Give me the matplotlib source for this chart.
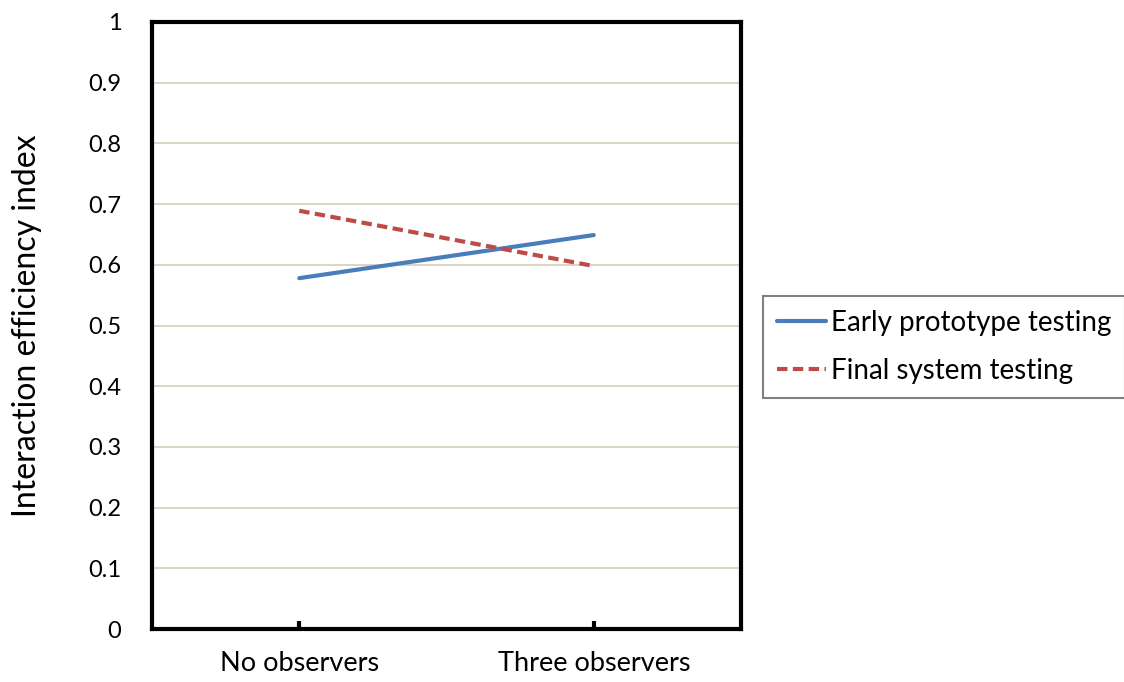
import matplotlib
matplotlib.use("Agg")
import matplotlib.pyplot as plt

categories = ["No observers", "Three observers"]
series_names = ["Early prototype testing", "Final system testing"]
early = [0.578, 0.649]
final = [0.689, 0.598]
yticks = [0, 0.1, 0.2, 0.3, 0.4, 0.5, 0.6, 0.7, 0.8, 0.9, 1]
ytick_labels = ["0", "0.1", "0.2", "0.3", "0.4", "0.5", "0.6", "0.7", "0.8", "0.9", "1"]

plt.rcParams['font.family'] = ['Lato', 'DejaVu Sans']

fig = plt.figure(figsize=(11.24, 6.82), dpi=100)
ax = fig.add_axes([152/1124, 1-629/682, 589/1124, 607/682])

x = list(range(len(categories)))
l1, = ax.plot(x, early, color="#4a7ebb", lw=3, solid_capstyle="round", zorder=3)
l2, = ax.plot(x, final, color="#be4b48", lw=3, ls=(0, (2.5, 1.3)), zorder=3)

ax.set_xlim(-0.5, 1.5)
ax.set_ylim(0, 1)
ax.set_yticks(yticks)
ax.set_yticklabels(ytick_labels, fontsize=17)
ax.set_xticks(x)
ax.set_xticklabels(categories, fontsize=19.5)
ax.tick_params(axis='x', direction='in', length=6, width=3, pad=16)
ax.tick_params(axis='y', length=0, pad=22)
ax.yaxis.grid(True, color="#d4d0b8", lw=1.2)
ax.set_axisbelow(True)
for s in ax.spines.values():
    s.set_linewidth(3)
    s.set_color("black")
ax.set_ylabel("Interaction efficiency index", fontsize=23, labelpad=33)

leg = fig.legend([l1, l2], series_names, loc="upper left",
                 bbox_to_anchor=(763/1124, 1-296/682), fontsize=20,
                 frameon=True, fancybox=False, handlelength=1.75,
                 handletextpad=0.2, borderpad=0.5, labelspacing=0.8,
                 borderaxespad=0)
leg.get_frame().set_edgecolor("#606060")
leg.get_frame().set_linewidth(1.5)

fig.savefig("out.png", dpi=100)
